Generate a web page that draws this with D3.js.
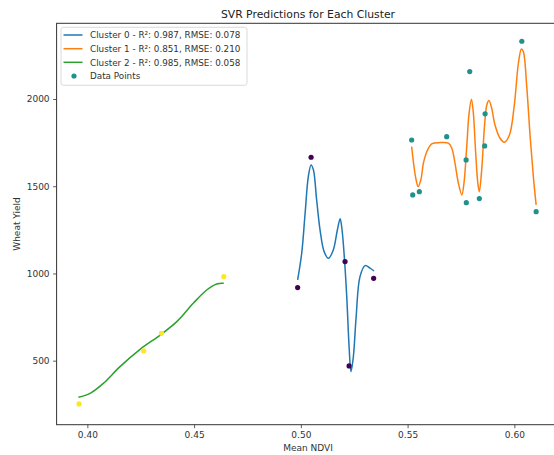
<!DOCTYPE html>
<html>
<head>
<meta charset="utf-8">
<script src="https://cdn.jsdelivr.net/npm/d3@7"></script>
<style>
  html, body { margin: 0; padding: 0; background: #fff; }
  svg { display: block; font-family: "DejaVu Sans", sans-serif; }
</style>
</head>
<body>
<svg id="chart" width="554" height="455"></svg>
<script>
// ---------- data ----------
const title = "SVR Predictions for Each Cluster";
const xLabel = "Mean NDVI";
const yLabel = "Wheat Yield";
const xTicks = [0.40, 0.45, 0.50, 0.55, 0.60];
const yTicks = [500, 1000, 1500, 2000];
const legendLabels = [
  "Cluster 0 - R\u00b2: 0.987, RMSE: 0.078",
  "Cluster 1 - R\u00b2: 0.851, RMSE: 0.210",
  "Cluster 2 - R\u00b2: 0.985, RMSE: 0.058",
  "Data Points"
];

// scatter points per cluster
const pointsX0 = [0.4985, 0.5048, 0.5207, 0.5226, 0.5341];
const pointsY0 = [919, 1666, 1068, 470, 972];
const pointsX1 = [0.5519, 0.5524, 0.5555, 0.5683, 0.5774, 0.5775, 0.5791, 0.5836, 0.5861, 0.5863, 0.6035, 0.6102];
const pointsY1 = [1765, 1450, 1469, 1784, 1651, 1406, 2157, 1429, 1731, 1915, 2331, 1354];
const pointsX2 = [0.3961, 0.4264, 0.4347, 0.4639];
const pointsY2 = [252, 556, 657, 982];

// SVR prediction curves
const curveX0 = [0.4985, 0.5004, 0.5020, 0.5035, 0.5048, 0.5059, 0.5074, 0.5090, 0.5109, 0.5129, 0.5152, 0.5171, 0.5184, 0.5193, 0.5204, 0.5215, 0.5226, 0.5235, 0.5246, 0.5259, 0.5277, 0.5301, 0.5324, 0.5343];
const curveY0 = [963, 1116, 1345, 1555, 1622, 1593, 1421, 1249, 1125, 1087, 1135, 1249, 1313, 1249, 1087, 867, 580, 437, 523, 752, 982, 1045, 1030, 1014];
const curveX1 = [0.5519, 0.5530, 0.5540, 0.5549, 0.5562, 0.5574, 0.5590, 0.5613, 0.5652, 0.5691, 0.5707, 0.5722, 0.5738, 0.5754, 0.5764, 0.5777, 0.5788, 0.5799, 0.5808, 0.5819, 0.5829, 0.5836, 0.5847, 0.5860, 0.5871, 0.5881, 0.5894, 0.5909, 0.5933, 0.5953, 0.5977, 0.5999, 0.6019, 0.6033, 0.6042, 0.6058, 0.6074, 0.6089, 0.6102];
const curveY1 = [1727, 1612, 1536, 1498, 1536, 1632, 1698, 1743, 1750, 1747, 1718, 1632, 1517, 1450, 1517, 1727, 1919, 1999, 1919, 1689, 1517, 1469, 1593, 1842, 1966, 1991, 1947, 1852, 1775, 1752, 1794, 1956, 2205, 2287, 2272, 2071, 1784, 1555, 1393];
const curveX2 = [0.3958, 0.4013, 0.4075, 0.4153, 0.4247, 0.4341, 0.4419, 0.4496, 0.4559, 0.4606, 0.4639];
const curveY2 = [290, 313, 370, 466, 565, 647, 724, 829, 905, 940, 944];

const lineColors = ["#1f77b4", "#ff7f0e", "#2ca02c"];
const pointColors = ["#440154", "#21918c", "#fde725"];

// ---------- layout ----------
const svg = d3.select("#chart");
const L = 56.6, R = 559.4, T = 23.3, B = 424.7;
const x = d3.scaleLinear().domain([0.3856, 0.6211]).range([L, R]);
const y = d3.scaleLinear().domain([133, 2434]).range([B, T]);

const plot = svg.append("g");

// curves
const line = d3.line().x(d => x(d[0])).y(d => y(d[1])).curve(d3.curveCatmullRom.alpha(0.5));
const curves = [[curveX0, curveY0], [curveX1, curveY1], [curveX2, curveY2]];
curves.forEach((c, i) => {
  plot.append("path")
    .datum(c[0].map((v, k) => [v, c[1][k]]))
    .attr("fill", "none")
    .attr("stroke", lineColors[i])
    .attr("stroke-width", 1.5)
    .attr("stroke-linejoin", "round")
    .attr("d", line);
});

// points
const pts = [[pointsX0, pointsY0], [pointsX1, pointsY1], [pointsX2, pointsY2]];
pts.forEach((p, i) => {
  plot.selectAll(null)
    .data(p[0].map((v, k) => [v, p[1][k]]))
    .enter().append("circle")
    .attr("cx", d => x(d[0]))
    .attr("cy", d => y(d[1]))
    .attr("r", 2.6)
    .attr("fill", pointColors[i]);
});

// axes
const xAxis = d3.axisBottom(x).tickValues(xTicks).tickFormat(d3.format(".2f")).tickSize(3.5).tickPadding(3.5);
const yAxis = d3.axisLeft(y).tickValues(yTicks).tickFormat(d3.format("d")).tickSize(3.5).tickPadding(3.5);

const gx = svg.append("g").attr("transform", `translate(0,${B})`).call(xAxis);
const gy = svg.append("g").attr("transform", `translate(${L},0)`).call(yAxis);
[gx, gy].forEach(g => {
  g.select(".domain").remove();
  g.selectAll("line").attr("stroke", "#333").attr("stroke-width", 0.8);
  g.selectAll("text").attr("fill", "#333").style("font-size", "9px").style("font-family", "DejaVu Sans");
});

// frame
svg.append("rect")
  .attr("x", L).attr("y", T).attr("width", R - L).attr("height", B - T)
  .attr("fill", "none").attr("stroke", "#333").attr("stroke-width", 1);

// labels
svg.append("text").attr("x", (L + R) / 2).attr("y", 18).attr("text-anchor", "middle")
  .style("font-size", "10.8px").attr("fill", "#222").text(title);
svg.append("text").attr("x", (L + R) / 2).attr("y", 451).attr("text-anchor", "middle")
  .style("font-size", "9px").attr("fill", "#333").text(xLabel);
svg.append("text").attr("transform", `translate(19.5,${(T + B) / 2}) rotate(-90)`).attr("text-anchor", "middle")
  .style("font-size", "9px").attr("fill", "#333").text(yLabel);

// legend
const lg = svg.append("g");
lg.append("rect").attr("x", 61).attr("y", 27.3).attr("width", 186).attr("height", 58)
  .attr("rx", 2.5).attr("fill", "#fff").attr("fill-opacity", 0.8)
  .attr("stroke", "#d0d0d0").attr("stroke-width", 0.8);
const rowY = [35, 48.7, 62.3, 76];
legendLabels.forEach((lab, i) => {
  if (i < 3) {
    lg.append("line").attr("x1", 63.5).attr("x2", 82.5).attr("y1", rowY[i]).attr("y2", rowY[i])
      .attr("stroke", lineColors[i]).attr("stroke-width", 1.5);
  } else {
    lg.append("circle").attr("cx", 74).attr("cy", rowY[i]).attr("r", 2.6).attr("fill", pointColors[1]);
  }
  lg.append("text").attr("x", 90).attr("y", rowY[i] + 3.2)
    .style("font-size", "8.8px").attr("fill", "#333").text(lab);
});
</script>
</body>
</html>
